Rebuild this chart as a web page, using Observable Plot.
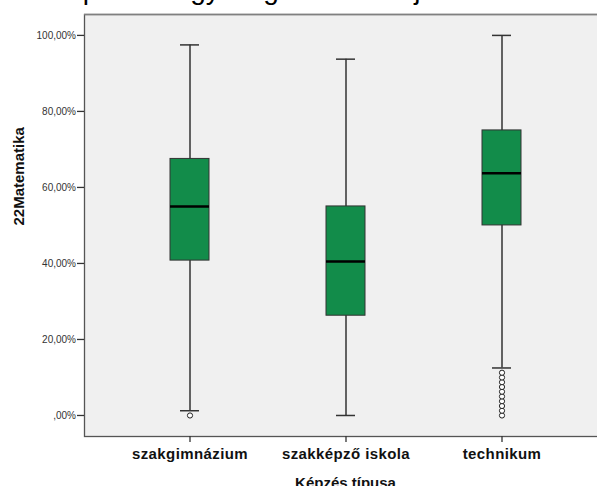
<!DOCTYPE html>
<html>
<head>
<meta charset="utf-8">
<script src="https://cdn.jsdelivr.net/npm/d3@7"></script>
<script src="https://cdn.jsdelivr.net/npm/@observablehq/plot@0.6"></script>
<style>
  html, body { margin: 0; padding: 0; background: #ffffff; }
  body { position: relative; width: 597px; height: 486px; overflow: hidden; }
  #title { position: absolute; left: -76px; top: -23.7px; font: 28px "Liberation Sans", Arial, sans-serif; line-height: 28px; white-space: nowrap; color: #000; }
</style>
</head>
<body>
<div id="title">Matematikai pontok egyik ágazat és ez jellemző</div>
<div id="chart"></div>
<script>
const categories = ["szakgimnázium", "szakképző iskola", "technikum"];
const whiskerLow  = [1.25, 0, 12.5];
const q1          = [40.75, 26.25, 50];
const median      = [55, 40.5, 63.75];
const q3          = [67.5, 55, 75];
const whiskerHigh = [97.5, 93.75, 100];
const outliersSzakgimnazium = [0];
const outliersSzakkepzo = [];
const outliersTechnikum = [0, 1.25, 2.5, 3.75, 5, 6.25, 7.5, 8.75, 10, 11.25];
const yTicks = [0, 20, 40, 60, 80, 100];
const yTickLabels = [",00%", "20,00%", "40,00%", "60,00%", "80,00%", "100,00%"];
const yLabel = "22Matematika";
const xLabel = "Képzés típusa";

const boxes = categories.map((c, i) => ({
  cat: c, lo: whiskerLow[i], q1: q1[i], med: median[i], q3: q3[i], hi: whiskerHigh[i]
}));
const outlierRows = [
  ...outliersSzakgimnazium.map(v => ({cat: categories[0], v})),
  ...outliersSzakkepzo.map(v => ({cat: categories[1], v})),
  ...outliersTechnikum.map(v => ({cat: categories[2], v}))
];

const font = "'Liberation Sans', Arial, sans-serif";
const plot = Plot.plot({
  width: 597,
  height: 486,
  marginLeft: 84,
  marginRight: -9,
  marginTop: 14,
  marginBottom: 50,
  style: {fontFamily: font, background: "transparent", color: "#222"},
  x: {type: "band", domain: categories, paddingInner: 0.75, paddingOuter: 0.548, label: null},
  y: {domain: [-5.53, 105.5], label: null},
  marks: [
    Plot.frame({fill: "#f0f0f0", stroke: "#555", strokeWidth: 1.3}),
    Plot.ruleY([105.5], {stroke: "#808080", strokeWidth: 1.5}),
    Plot.ruleX(boxes, {x: "cat", y1: "lo", y2: "hi", stroke: "#333", strokeWidth: 1.5}),
    Plot.tickY(boxes, {x: "cat", y: "lo", stroke: "#333", strokeWidth: 1.5, insetLeft: 10, insetRight: 10}),
    Plot.tickY(boxes, {x: "cat", y: "hi", stroke: "#333", strokeWidth: 1.5, insetLeft: 10, insetRight: 10}),
    Plot.barY(boxes, {x: "cat", y1: "q1", y2: "q3", fill: "#128c4a", stroke: "#333", strokeWidth: 1}),
    Plot.tickY(boxes, {x: "cat", y: "med", stroke: "#000", strokeWidth: 2.5}),
    Plot.dot(outlierRows, {x: "cat", y: "v", r: 2.6, stroke: "#222", fill: "#ffffff", strokeWidth: 1}),
    Plot.axisY({ticks: yTicks, tickFormat: d => yTickLabels[yTicks.indexOf(d)], tickSize: 7, tickPadding: 1.5,
      fontSize: 10, stroke: "#333", strokeWidth: 1.3, fill: "#333", label: null}),
    Plot.axisX({tickSize: 6, tickPadding: 6, fontSize: 15, fontWeight: "bold", stroke: "#333", strokeWidth: 1.3,
      fill: "#111", label: null}),
    Plot.text([yLabel], {frameAnchor: "left", dx: -65, rotate: -90, fontSize: 15, fontWeight: "bold", fill: "#111"}),
    Plot.text([xLabel], {frameAnchor: "bottom", dy: 51, lineAnchor: "bottom", fontSize: 15, fontWeight: "bold", fill: "#111"})
  ]
});
plot.querySelectorAll('g[aria-label="x-axis tick label"] text').forEach(t => t.setAttribute("letter-spacing", "0.4"));
document.getElementById("chart").appendChild(plot);
</script>
</body>
</html>
